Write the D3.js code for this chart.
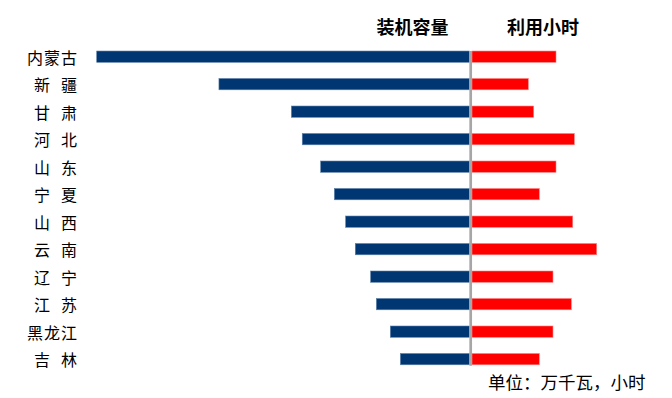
<!DOCTYPE html>
<html><head><meta charset="utf-8">
<script src="https://cdn.jsdelivr.net/npm/d3@7"></script>
<style>html,body{margin:0;padding:0;background:#fff;}svg{display:block;}</style>
</head><body>
<svg id="c" width="672" height="398"></svg>
<script>
const provinces = ["内蒙古","新疆","甘肃","河北","山东","宁夏","山西","云南","辽宁","江苏","黑龙江","吉林"];
const capacity = [2670,1794,1275,1197,1065,967,886,817,707,666,566,494];
const hours = [2000,1670,1734,2218,2000,1801,2199,2484,1964,2182,1964,1801];
const headers = ["装机容量","利用小时"];
const unitNote = "单位：万千瓦，小时";

const svg = d3.select("#c");
const font = "'Noto Sans CJK SC','Noto Sans',sans-serif";

const y = d3.scaleBand().domain(provinces).range([34.8, 381.0]).padding(0.59);
const xCap = d3.scaleLinear().domain([0, 2670]).range([469.3, 96.7]);
const xHr = d3.scaleLinear().domain([1000, 3000]).range([472, 640]);

const data = provinces.map((p,i)=>({p, c:capacity[i], h:hours[i]}));

svg.selectAll("rect.cap").data(data).enter().append("rect")
  .attr("class","cap")
  .attr("x", d=>xCap(d.c)).attr("width", d=>xCap(0)-xCap(d.c))
  .attr("y", d=>y(d.p)).attr("height", y.bandwidth())
  .attr("fill","#003671").attr("stroke","#5b7fa8").attr("stroke-width",0.6);

svg.selectAll("rect.hr").data(data).enter().append("rect")
  .attr("class","hr")
  .attr("x", xHr(1000)).attr("width", d=>xHr(d.h)-xHr(1000))
  .attr("y", d=>y(d.p)).attr("height", y.bandwidth())
  .attr("fill","#ff0000").attr("stroke","#ff7b7b").attr("stroke-width",0.6);

// center axis line
svg.append("line")
  .attr("x1",470.7).attr("x2",470.7)
  .attr("y1", y(provinces[0])).attr("y2", y(provinces[provinces.length-1])+y.bandwidth()+1)
  .attr("stroke","#a6a6a6").attr("stroke-width",2.7);

// category labels (each char positioned)
data.forEach(d=>{
  const chars = Array.from(d.p);
  const cx = chars.length===3 ? [35,52,69] : [42,69];
  const cy = y(d.p)+y.bandwidth()/2;
  chars.forEach((ch,j)=>{
    svg.append("text").attr("x",cx[j]).attr("y",cy)
      .attr("text-anchor","middle").attr("dominant-baseline","central")
      .attr("font-family",font).attr("font-size",16).attr("fill","#000")
      .text(ch);
  });
});

// headers
svg.append("text").attr("x",412.5).attr("y",26.3)
  .attr("text-anchor","middle").attr("dominant-baseline","central")
  .attr("font-family",font).attr("font-size",18).attr("font-weight","bold").text(headers[0]);
svg.append("text").attr("x",543).attr("y",26.3)
  .attr("text-anchor","middle").attr("dominant-baseline","central")
  .attr("font-family",font).attr("font-size",18).attr("font-weight","bold").text(headers[1]);

// unit note
svg.append("text").attr("x",488).attr("y",381.6)
  .attr("text-anchor","start").attr("dominant-baseline","central")
  .attr("font-family",font).attr("font-size",17.5).text(unitNote);
</script>
</body></html>
